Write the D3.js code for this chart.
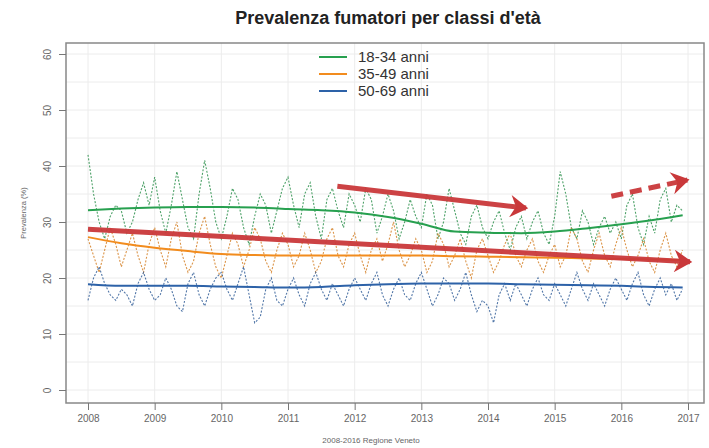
<!DOCTYPE html>
<html lang="it">
<head>
    <meta charset="UTF-8">
    <title>Prevalenza fumatori per classi d'età</title>
    <script src="https://d3js.org/d3.v7.min.js"></script>
    <style>
        body { margin: 0; background: #fff; }
        text { font-family: "Liberation Sans", Arial, sans-serif; }
        .axis path { display: none; }
        .axis line { stroke: #777; }
        .axis text { fill: #666; font-size: 10px; }
    </style>
</head>
<body>
<div id="chart"></div>
<script>
// monthly values, Jan 2008 - Dec 2016
const years = [2008, 2009, 2010, 2011, 2012, 2013, 2014, 2015, 2016, 2017];
const yTicks = [0, 10, 20, 30, 40, 50, 60];
const seriesNames = ["18-34 anni", "35-49 anni", "50-69 anni"];
const seriesColors = ["#27a04f", "#f28c1e", "#2d62a8"];

const monthly1834 = [
    42, 35, 30, 27, 31, 33, 32, 28, 30, 34, 37, 33,
    38, 32, 28, 33, 39, 34, 29, 27, 35, 41, 36, 30,
    27, 31, 36, 34, 29, 26, 31, 35, 33, 28, 32, 36,
    38, 33, 29, 35, 37, 31, 27, 34, 36, 32, 29, 35,
    33, 30, 36, 34, 28, 31, 35, 32, 27, 30, 34, 31,
    29, 35, 33, 27, 30, 36, 32, 28, 26, 31, 33, 29,
    27, 30, 32, 28, 25, 29, 31, 27, 30, 32, 28, 26,
    31, 39, 35, 29, 27, 32, 30, 26, 29, 31, 28, 30,
    27, 33, 35, 29, 26, 31, 28, 34, 36, 30, 33, 32
];
const monthly3549 = [
    27, 24, 21, 25, 29, 26, 22, 25, 28, 24, 21, 26,
    29, 25, 22, 27, 30, 24, 21, 23, 28, 31, 26, 22,
    20, 24, 28, 26, 22, 25, 29, 27, 23, 21, 25, 28,
    26, 22, 24, 28, 25, 21, 23, 27, 29, 24, 22, 26,
    28, 24, 21, 25, 27, 23, 26, 30, 25, 22, 24, 27,
    25, 21, 23, 28, 26, 22, 24, 27, 23, 20, 25, 27,
    24, 21, 23, 26, 28, 24, 22, 25, 27, 23, 21, 24,
    26, 22, 24, 29, 27, 23, 21, 25, 28, 24, 22, 26,
    29, 25, 22, 24, 27, 23, 21, 25, 28, 24, 22, 25
];
const monthly5069 = [
    16, 20, 22, 19, 17, 16, 18, 17, 15, 19, 21, 18,
    16, 17, 20, 18, 15, 14, 19, 21, 17, 15, 18, 20,
    21, 18, 16, 19, 22, 17, 12, 13, 18, 20, 16, 15,
    18, 20, 17, 15, 19, 21, 18, 16, 19, 17, 15, 18,
    20, 18, 16, 19, 21, 17, 15, 18, 20, 17, 16, 19,
    21, 18, 15, 17, 20, 19, 16, 18, 21, 17, 14, 16,
    15, 12, 17, 19, 16, 19, 17, 15, 18, 20, 17, 16,
    19, 17, 15, 18, 21, 18, 16, 19, 17, 15, 18, 20,
    18, 16, 19, 21, 17, 15, 18, 20, 17, 19, 16, 18
];

// smoothed trend, read every half year
const trendTimes = [2008, 2008.5, 2009, 2009.5, 2010, 2010.5, 2011, 2011.5, 2012, 2012.5,
    2013, 2013.5, 2014, 2014.5, 2015, 2015.5, 2016, 2016.5, 2016.92];
const trend1834 = [32.1, 32.4, 32.6, 32.7, 32.7, 32.6, 32.3, 32.1, 31.7, 30.9,
    29.7, 28.3, 28.1, 28.0, 28.3, 28.9, 29.6, 30.4, 31.2];
const trend3549 = [27.3, 26.2, 25.4, 24.8, 24.3, 24.1, 24.0, 24.0, 24.0, 24.0,
    24.0, 23.9, 23.8, 23.7, 23.6, 23.5, 23.4, 23.3, 23.2];
const trend5069 = [18.9, 18.6, 18.6, 18.6, 18.5, 18.4, 18.3, 18.4, 18.7, 18.9,
    19.0, 19.0, 19.0, 18.9, 18.8, 18.7, 18.6, 18.4, 18.3];

// red annotation arrows: [x1, y1, x2, y2, dashed]
const arrows = [
    [2008.0, 28.7, 2017.03, 22.9, false],
    [2011.74, 36.4, 2014.57, 32.5, false],
    [2015.85, 34.6, 2016.99, 37.5, true]
];

const width = 709, height = 448;
const svg = d3.select("#chart").append("svg")
    .attr("width", width).attr("height", height);

const x = d3.scaleLinear().domain([2008, 2017]).range([88, 688]);
const y = d3.scaleLinear().domain([0, 60]).range([390, 54]);

// grid
const grid = svg.append("g");
grid.selectAll(".gv").data(years).enter().append("line")
    .attr("x1", d => x(d)).attr("x2", d => x(d))
    .attr("y1", 43).attr("y2", 403)
    .attr("stroke", "#ececec").attr("stroke-width", 1);
grid.selectAll(".gh").data(d3.range(0, 61, 5)).enter().append("line")
    .attr("x1", 66).attr("x2", 704)
    .attr("y1", d => y(d)).attr("y2", d => y(d))
    .attr("stroke", "#ececec").attr("stroke-width", 1);

const monthly = [monthly1834, monthly3549, monthly5069];
const trends = [trend1834, trend3549, trend5069];

const line = d3.line().x(d => x(d[0])).y(d => y(d[1]));

monthly.forEach((vals, k) => {
    const pts = vals.map((v, i) => [2008 + i / 12, v]);
    svg.append("path")
        .attr("d", line(pts))
        .attr("fill", "none")
        .attr("stroke", d3.color(seriesColors[k]).darker(0.4))
        .attr("stroke-opacity", 0.8)
        .attr("stroke-width", 1.1)
        .attr("stroke-dasharray", "2,1.6");
});

const smooth = d3.line().curve(d3.curveMonotoneX).x(d => x(d[0])).y(d => y(d[1]));
trends.forEach((vals, k) => {
    svg.append("path")
        .attr("d", smooth(vals.map((v, i) => [trendTimes[i], v])))
        .attr("fill", "none")
        .attr("stroke", seriesColors[k])
        .attr("stroke-width", 2);
});

// arrows
const defs = svg.append("defs");
defs.append("marker")
    .attr("id", "head")
    .attr("viewBox", "0 0 10 10")
    .attr("refX", 8).attr("refY", 5)
    .attr("markerWidth", 4.5).attr("markerHeight", 4.5)
    .attr("markerUnits", "strokeWidth")
    .attr("orient", "auto")
    .append("path")
    .attr("d", "M1,0 L9,5 L1,10 L3.5,5 Z")
    .attr("fill", "#c9383a");

arrows.forEach(a => {
    svg.append("line")
        .attr("x1", x(a[0])).attr("y1", y(a[1]))
        .attr("x2", x(a[2])).attr("y2", y(a[3]))
        .attr("stroke", "#c9383a")
        .attr("stroke-width", 5)
        .attr("stroke-opacity", 0.95)
        .attr("stroke-dasharray", a[4] ? "12,7" : null)
        .attr("marker-end", "url(#head)");
});

// frame
svg.append("rect")
    .attr("x", 66).attr("y", 43).attr("width", 638).attr("height", 360)
    .attr("fill", "none").attr("stroke", "#888").attr("stroke-width", 1.5);

// axes
svg.append("g").attr("class", "axis")
    .attr("transform", "translate(0,403)")
    .call(d3.axisBottom(x).tickValues(years).tickFormat(d3.format("d")).tickSize(7).tickPadding(5));

const yAxis = svg.append("g").attr("class", "axis")
    .attr("transform", "translate(66,0)")
    .call(d3.axisLeft(y).tickValues(yTicks).tickSize(7).tickPadding(4));
yAxis.selectAll("text")
    .attr("font-size", 9)
    .attr("x", 0).attr("dy", null)
    .attr("transform", "translate(-18,0) rotate(-90)")
    .attr("dominant-baseline", "middle")
    .attr("text-anchor", "middle");

svg.append("text")
    .attr("transform", "translate(24,213) rotate(-90)")
    .attr("text-anchor", "middle")
    .attr("dominant-baseline", "middle")
    .attr("font-size", 7.5).attr("fill", "#666")
    .text("Prevalenza (%)");

// title and caption
svg.append("text")
    .attr("x", 388).attr("y", 24)
    .attr("text-anchor", "middle")
    .attr("font-family", "'Open Sans', sans-serif")
    .attr("font-weight", "bold")
    .attr("font-size", 18)
    .attr("fill", "#222")
    .text("Prevalenza fumatori per classi d'età");

svg.append("text")
    .attr("x", 371).attr("y", 443)
    .attr("text-anchor", "middle")
    .attr("font-size", 8).attr("fill", "#666")
    .text("2008-2016 Regione Veneto");

// legend
const legend = svg.append("g");
seriesNames.forEach((name, k) => {
    const ly = 57 + k * 17;
    legend.append("line")
        .attr("x1", 319).attr("x2", 347)
        .attr("y1", ly).attr("y2", ly)
        .attr("stroke", seriesColors[k]).attr("stroke-width", 2);
    legend.append("text")
        .attr("x", 358).attr("y", ly).attr("dy", "0.35em")
        .attr("font-size", 15).attr("fill", "#333")
        .text(name);
});
</script>
</body>
</html>
